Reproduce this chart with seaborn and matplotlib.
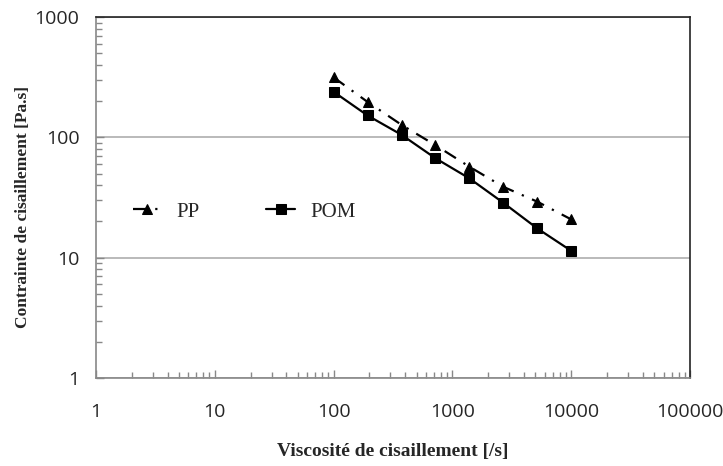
import pandas as pd
import seaborn as sns
import matplotlib.pyplot as plt
from matplotlib.ticker import LogLocator, FuncFormatter, NullFormatter

shear_rate = [100, 193, 373, 720, 1390, 2680, 5180, 10000]
pp_values = [315, 197, 127, 86, 57, 38.8, 29.2, 20.8]
pom_values = [239, 152, 105, 67, 45.6, 28.6, 17.5, 11.4]

df = pd.DataFrame({
    "x": shear_rate * 2,
    "y": pp_values + pom_values,
    "serie": ["PP"] * len(shear_rate) + ["POM"] * len(shear_rate),
})

sns.set_style("white")

fig = plt.figure(figsize=(7.23, 4.66), dpi=100)
ax = fig.add_axes([0.1328, 0.1888, 0.8216, 0.7747])

sns.lineplot(data=df, x="x", y="y", hue="serie", style="serie",
             palette={"PP": "black", "POM": "black"},
             markers={"PP": "^", "POM": "s"},
             dashes={"PP": (6, 4, 1, 4), "POM": ""},
             markersize=7, linewidth=1.6, markeredgecolor="black",
             ax=ax, legend=True)

ax.set_xscale("log")
ax.set_yscale("log")
ax.set_xlim(1, 100000)
ax.set_ylim(1, 1000)

ax.yaxis.grid(True, which="major", color="#b4b4b4", linewidth=1.3)
ax.xaxis.grid(False)
ax.set_axisbelow(True)

fmt = FuncFormatter(lambda v, p: f"{int(round(v))}")
ax.xaxis.set_major_locator(LogLocator(base=10, numticks=10))
ax.yaxis.set_major_locator(LogLocator(base=10, numticks=10))
ax.xaxis.set_major_formatter(fmt)
ax.yaxis.set_major_formatter(fmt)
ax.xaxis.set_minor_locator(LogLocator(base=10, subs=range(2, 10), numticks=20))
ax.yaxis.set_minor_locator(LogLocator(base=10, subs=range(2, 10), numticks=20))
ax.xaxis.set_minor_formatter(NullFormatter())
ax.yaxis.set_minor_formatter(NullFormatter())

ax.tick_params(which="major", direction="in", length=6, color="#888888", width=1,
               labelsize=14)
ax.tick_params(which="minor", direction="in", length=4, color="#888888", width=1)
ax.tick_params(axis="y", which="both", left=True, pad=12)
ax.tick_params(axis="x", which="both", bottom=True, pad=18)
for lab in ax.get_xticklabels() + ax.get_yticklabels():
    lab.set_family("Open Sans")

for side in ["left", "bottom"]:
    ax.spines[side].set_color("#888888")
    ax.spines[side].set_linewidth(1.2)
for side in ["top", "right"]:
    ax.spines[side].set_color("#222222")
    ax.spines[side].set_linewidth(1.2)

ax.set_xlabel("Viscosité de cisaillement [/s]", family="Liberation Serif",
              fontweight="bold", fontsize=14)
ax.set_ylabel("Contrainte de cisaillement [Pa.s]", family="Liberation Serif",
              fontweight="bold", fontsize=12.5)
ax.xaxis.set_label_coords(0.5, -0.18)
ax.yaxis.set_label_coords(-0.11, 0.475)

leg = ax.legend(loc="center left", bbox_to_anchor=(0.03, 0.46), ncol=2,
                frameon=False, handlelength=1.4, handletextpad=0.7,
                columnspacing=3.2,
                prop={"family": "Liberation Serif", "size": 15})

plt.savefig("out.png", dpi=100)
